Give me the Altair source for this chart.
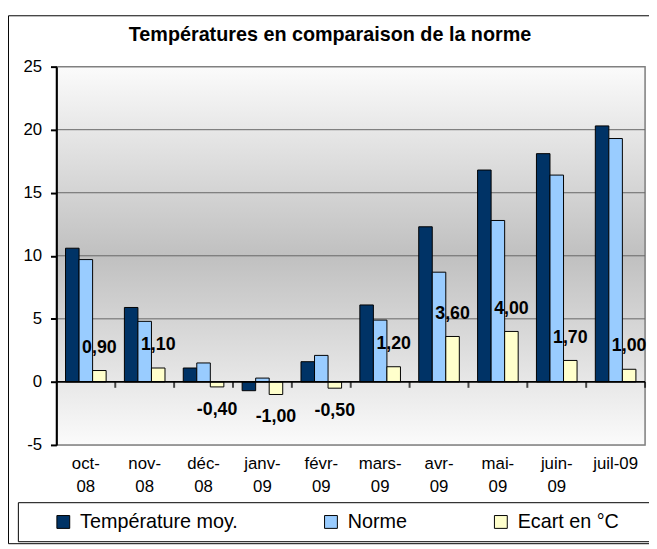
import altair as alt
import pandas as pd

months = ["oct-08", "nov-08", "déc-08", "janv-09", "févr-09",
          "mars-09", "avr-09", "mai-09", "juin-09", "juil-09"]
temp = [10.6, 5.9, 1.1, -0.7, 1.6, 6.1, 12.3, 16.8, 18.1, 20.3]
norme = [9.7, 4.8, 1.5, 0.3, 2.1, 4.9, 8.7, 12.8, 16.4, 19.3]
ecart = [0.9, 1.1, -0.4, -1.0, -0.5, 1.2, 3.6, 4.0, 1.7, 1.0]
series = ["Température moy.", "Norme", "Ecart en °C"]
colors = ["#003366", "#99CCFF", "#FFFFCC"]
y_ticks = [-5, 0, 5, 10, 15, 20, 25]
grid_vals = [5, 10, 15, 20]

W, H = 596, 383
FONT = "Liberation Sans"

rows = []
for i, m in enumerate(months):
    for s, vals in zip(series, [temp, norme, ecart]):
        rows.append({"mois": m, "serie": s, "valeur": vals[i]})
df = pd.DataFrame(rows)

df_ecart = pd.DataFrame({"mois": months, "serie": series[2], "valeur": ecart})
df_ecart["label"] = [f"{v:.2f}".replace(".", ",") for v in ecart]

df_grid = pd.DataFrame({"valeur": grid_vals})
df_months = pd.DataFrame({"mois": months})
one = pd.DataFrame({"a": [0]})

y_scale = alt.Scale(domain=[-5, 25], nice=False, zero=False)
y_axis = alt.Axis(title=None, values=y_ticks, grid=False, domainColor="black",
                  domainWidth=2, tickColor="black", tickWidth=2, tickSize=6,
                  labelFontSize=17, labelPadding=9, labelFont=FONT,
                  labelColor="black", zindex=1,
                  labelExpr="replace(datum.label, '\u2212', '-')")
x_axis = alt.Axis(title=None, domain=False, ticks=False, labelAngle=0,
                  labelFontSize=17, labelFont=FONT, labelColor="black",
                  labelPadding=11, labelLineHeight=23, labelBaseline="top",
                  labelExpr="datum.value == 'juil-09' ? datum.value : split(replace(datum.value, '-', '-|'), '|')")
x_enc = alt.X("mois:N", sort=months,
              scale=alt.Scale(paddingInner=0, paddingOuter=0), axis=x_axis)
y_enc = alt.Y("valeur:Q", scale=y_scale, stack=None, axis=y_axis)
xo_enc = alt.XOffset("serie:N", sort=series,
                     scale=alt.Scale(domain=series, paddingOuter=0.675, paddingInner=0))

frame = alt.Chart(one).mark_rect(fillOpacity=0, stroke="black", strokeWidth=1).encode(
    x=alt.value(-48.5), x2=alt.value(650), y=alt.value(-51.5), y2=alt.value(483))
legend_box = alt.Chart(one).mark_rect(fillOpacity=0, stroke="black", strokeWidth=1).encode(
    x=alt.value(-38.5), x2=alt.value(650), y=alt.value(441.5), y2=alt.value(481))

bg = alt.Chart(one).mark_rect(
    fill=alt.Gradient(gradient="linear",
                      stops=[alt.GradientStop(color="#fbfbfb", offset=0),
                             alt.GradientStop(color="#c0c0c0", offset=0.5),
                             alt.GradientStop(color="#fbfbfb", offset=1)],
                      x1=0, x2=0, y1=0, y2=1),
    stroke="#808080", strokeWidth=1.5
).encode(x=alt.value(0), x2=alt.value(W), y=alt.value(0), y2=alt.value(H))

grid = alt.Chart(df_grid).mark_rule(color="#666666", strokeWidth=1).encode(
    y=alt.Y("valeur:Q", scale=y_scale, axis=y_axis))

bars = alt.Chart(df).mark_bar(stroke="black", strokeWidth=1).encode(
    x=x_enc, xOffset=xo_enc, y=y_enc,
    color=alt.Color("serie:N", sort=series,
                    scale=alt.Scale(domain=series, range=colors),
                    legend=alt.Legend(title=None, orient="none", legendX=-3, legendY=451,
                                      direction="horizontal", symbolType="square",
                                      symbolSize=169, symbolStrokeColor="black",
                                      symbolStrokeWidth=1, symbolOpacity=1,
                                      labelFontSize=20, labelFont=FONT,
                                      labelColor="black", columnPadding=84,
                                      labelOffset=7)))

zero = alt.Chart(one).mark_rule(color="black", strokeWidth=2).encode(
    y=alt.datum(0, scale=y_scale))

ticks = alt.Chart(df_months).mark_tick(orient="vertical", size=6, thickness=2,
                                       color="black", yOffset=3).encode(
    x=alt.X("mois:N", sort=months, bandPosition=1), y=alt.datum(0))

lab_style = dict(fontWeight="bold", fontSize=18, font=FONT, color="black", baseline="middle")
pos = alt.Chart(df_ecart).transform_filter("datum.valeur >= 0").mark_text(dy=-23, **lab_style).encode(
    x=x_enc, xOffset=xo_enc, y=y_enc, text="label:N")
neg = alt.Chart(df_ecart).transform_filter("datum.valeur < 0").mark_text(dy=23, **lab_style).encode(
    x=x_enc, xOffset=xo_enc, y=y_enc, text="label:N")

chart = alt.layer(frame, legend_box, bg, grid, bars, zero, ticks, pos, neg).properties(
    width=W, height=H,
    title=alt.TitleParams("Températures en comparaison de la norme", fontSize=20, font=FONT,
                          fontWeight="bold", color="black", anchor="middle", frame="group",
                          baseline="bottom", offset=-50, dx=-21),
    autosize=alt.AutoSizeParams(type="none"),
    padding={"left": 49, "top": 56, "right": 4, "bottom": 102},
).configure_view(stroke=None).configure(background="white")

chart.save("out.html", embed_options={"renderer": "svg", "actions": False})
